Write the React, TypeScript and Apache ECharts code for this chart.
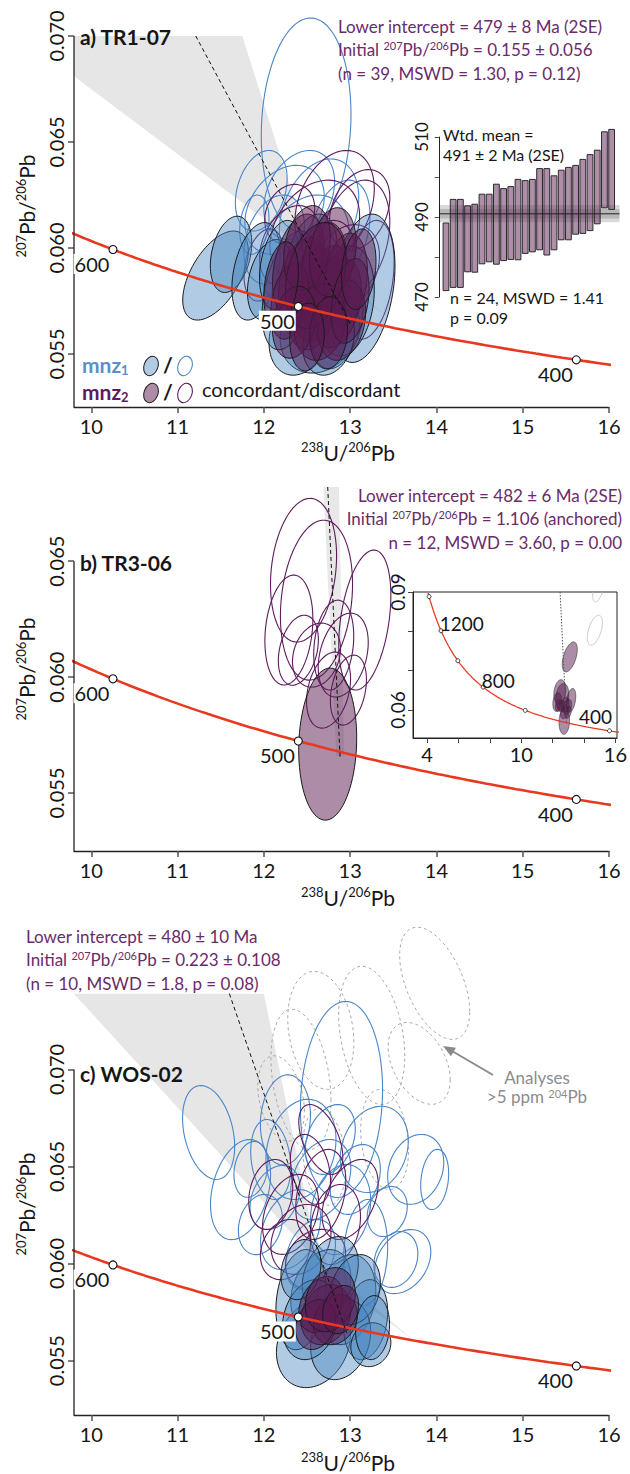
import React, { useEffect, useRef } from "react";
import * as echarts from "echarts";

// ---------------- data ----------------
const X_RANGE = [9.8, 16];
const X_TICKS = [10, 11, 12, 13, 14, 15, 16];
const Y_RANGE_A = [0.0525, 0.0708];
const Y_TICKS_A = [0.055, 0.06, 0.065, 0.07];
const Y_RANGE_B = [0.0525, 0.0682];
const Y_TICKS_B = [0.055, 0.06, 0.065];
const Y_RANGE_C = [0.0522, 0.0745];
const Y_TICKS_C = [0.055, 0.06, 0.065, 0.07];

const CONCORDIA_TICK_AGES = [400, 500, 600];
const INSET_TICK_AGES = [400, 600, 800, 1000, 1200, 1400];
const INSET_LABELLED_AGES = [400, 800, 1200];

// discordia fits: lower intercept age (Ma), initial 207Pb/206Pb, top of drawn line
const FIT_AGES = [479, 482, 480];
const FIT_INITIALS = [0.155, 1.106, 0.223];
const FIT_TOPS = [0.07, 0.0682, 0.0739];

// error envelopes of the fits [x, y]
const BAND_A = [[9.8, 0.07], [11.75, 0.07], [12.45, 0.061], [12.75, 0.059], [13.55, 0.0564], [12.9, 0.0584], [12.45, 0.06], [9.8, 0.0681]];
const BAND_B = [[12.69, 0.0682], [12.87, 0.0682], [12.93, 0.0566], [12.84, 0.0566]];
const BAND_C = [[9.8, 0.0739], [12.0, 0.0739], [12.55, 0.062], [12.75, 0.0598], [13.72, 0.0561], [12.9, 0.0588], [12.5, 0.0607]];

// ellipses: [238U/206Pb, 207Pb/206Pb, half-width x, half-width y, rho]
const A_MNZ1_CONC = [
  [11.44, 0.0587, 0.38, 0.0021, 0.55], [11.62, 0.0597, 0.24, 0.0018, 0.3], [11.91, 0.0589, 0.28, 0.0023, 0.35],
  [12.07, 0.0585, 0.26, 0.0019, 0.3], [13.14, 0.0581, 0.38, 0.0035, 0.3], [12.65, 0.0561, 0.46, 0.002, 0.2],
  [12.41, 0.0559, 0.35, 0.0019, 0.2], [12.85, 0.0565, 0.3, 0.0022, 0.3], [12.3, 0.058, 0.32, 0.0028, 0.4],
  [12.55, 0.0594, 0.3, 0.0022, 0.3], [12.95, 0.0575, 0.33, 0.0026, 0.2], [12.2, 0.0592, 0.25, 0.0021, 0.3],
  [12.75, 0.0557, 0.3, 0.0017, 0.2],
];
const A_MNZ2_CONC = [
  [12.45, 0.0585, 0.28, 0.002, 0.3], [12.6, 0.0578, 0.3, 0.0022, 0.2], [12.75, 0.0582, 0.25, 0.0019, 0.25],
  [12.55, 0.057, 0.27, 0.0018, 0.2], [12.85, 0.0574, 0.28, 0.0021, 0.3], [12.4, 0.0592, 0.3, 0.0024, 0.35],
  [12.7, 0.0592, 0.26, 0.002, 0.2], [12.95, 0.0585, 0.25, 0.0022, 0.2], [12.3, 0.0575, 0.22, 0.0018, 0.3],
  [12.65, 0.0565, 0.3, 0.0018, 0.15], [12.9, 0.0566, 0.28, 0.0019, 0.2], [12.5, 0.06, 0.27, 0.002, 0.25],
  [12.8, 0.0598, 0.27, 0.0021, 0.2], [12.6, 0.0587, 0.35, 0.0025, 0.3], [13.0, 0.0575, 0.22, 0.002, 0.3],
  [12.35, 0.0565, 0.25, 0.0017, 0.2], [12.75, 0.056, 0.22, 0.0017, 0.1], [12.5, 0.0558, 0.2, 0.0016, 0.1],
  [13.1, 0.059, 0.2, 0.0019, 0.2], [12.2, 0.0583, 0.2, 0.002, 0.3],
];
const A_MNZ1_DISC = [
  [12.49, 0.0658, 0.52, 0.00505, 0.1], [11.97, 0.0627, 0.3, 0.0019, 0.3], [12.41, 0.0625, 0.41, 0.0021, 0.3],
  [12.24, 0.0618, 0.46, 0.0021, 0.3], [12.64, 0.0616, 0.46, 0.0026, 0.3], [12.12, 0.0604, 0.35, 0.0021, 0.3],
  [12.88, 0.0608, 0.35, 0.0024, 0.3], [11.89, 0.0611, 0.17, 0.0014, 0.2], [12.47, 0.0599, 0.52, 0.0026, 0.3],
];
const A_MNZ2_DISC = [
  [12.82, 0.062, 0.46, 0.0026, 0.3], [12.59, 0.0608, 0.52, 0.0024, 0.3], [13.05, 0.0604, 0.41, 0.0028, 0.3],
  [12.3, 0.0601, 0.35, 0.0019, 0.3], [13.22, 0.0585, 0.29, 0.0028, 0.3], [12.93, 0.059, 0.41, 0.0021, 0.3],
  [12.3, 0.0616, 0.29, 0.0014, 0.2], [12.7, 0.0594, 0.35, 0.0019, 0.3], [12.0, 0.0592, 0.23, 0.0017, 0.3],
  [13.11, 0.0618, 0.35, 0.0019, 0.3],
];

const B_MNZ2_CONC = [[12.74, 0.05711, 0.336, 0.00328, 0.08]];
const B_MNZ2_DISC = [
  [12.46, 0.06461, 0.383, 0.0031, 0.2], [12.61, 0.06332, 0.418, 0.00345, 0.2], [12.29, 0.06203, 0.278, 0.00237, 0.2],
  [13.17, 0.06246, 0.302, 0.00302, 0.35], [12.92, 0.06095, 0.29, 0.00181, 0.3], [12.61, 0.06095, 0.278, 0.00138, 0.2],
  [12.4, 0.06116, 0.232, 0.00151, 0.3], [12.81, 0.06138, 0.232, 0.00194, 0.2], [12.75, 0.05944, 0.255, 0.00164, 0.3],
  [12.98, 0.05944, 0.209, 0.00151, 0.3], [13.09, 0.0735, 0.48, 0.0038, 0.5],
];
const B_INSET_EXCLUDED = [[14.69, 0.0803, 0.48, 0.0038, 0.5], [14.9, 0.0905, 0.35, 0.003, 0.5]];

const C_HIGH_204 = [
  [13.98, 0.07443, 0.406, 0.00289, -0.5], [13.8, 0.07031, 0.36, 0.00211, -0.4], [13.25, 0.07175, 0.383, 0.00356, -0.3],
  [12.66, 0.07201, 0.383, 0.00304, -0.2], [12.43, 0.06949, 0.348, 0.00361, -0.3], [13.4, 0.06639, 0.278, 0.00258, -0.2],
  [12.7, 0.0655, 0.25, 0.0025, -0.2], [12.2, 0.0685, 0.27, 0.0022, -0.3],
];
const C_MNZ1_DISC = [
  [11.36, 0.06675, 0.302, 0.00242, -0.3], [12.9, 0.06845, 0.476, 0.00505, 0.1], [13.28, 0.06588, 0.394, 0.00222, 0.2],
  [13.76, 0.06485, 0.325, 0.0018, 0.2], [13.98, 0.06433, 0.162, 0.00155, 0.2], [13.61, 0.0601, 0.325, 0.00165, 0.3],
  [13.53, 0.06021, 0.255, 0.00144, 0.2], [13.43, 0.06268, 0.232, 0.00129, 0.2], [13.18, 0.06057, 0.255, 0.00273, 0.1],
  [11.73, 0.06381, 0.348, 0.00258, 0.3], [11.85, 0.06485, 0.197, 0.00144, 0.2], [12.13, 0.0634, 0.29, 0.00165, 0.3],
  [12.43, 0.06588, 0.406, 0.00258, 0.2], [12.66, 0.06433, 0.348, 0.00206, 0.3], [12.31, 0.06175, 0.348, 0.00206, 0.3],
  [12.89, 0.06278, 0.348, 0.00232, 0.2], [12.54, 0.06046, 0.29, 0.0018, 0.3], [12.08, 0.06536, 0.232, 0.00206, -0.2],
  [13.06, 0.06433, 0.29, 0.0018, 0.3], [12.25, 0.0674, 0.29, 0.00232, 0.1], [11.96, 0.06201, 0.255, 0.00155, 0.2],
  [12.77, 0.06639, 0.29, 0.0018, 0.3],
];
const C_MNZ2_DISC = [
  [12.31, 0.06253, 0.325, 0.00206, 0.3], [12.43, 0.06124, 0.348, 0.0018, 0.2], [12.66, 0.06356, 0.29, 0.00232, 0.3],
  [12.83, 0.06201, 0.29, 0.00206, 0.2], [12.54, 0.06485, 0.232, 0.0018, -0.3], [12.25, 0.06072, 0.29, 0.00155, 0.2],
  [13.0, 0.0633, 0.325, 0.00206, 0.4], [12.6, 0.06021, 0.348, 0.00155, 0.2], [12.08, 0.06356, 0.255, 0.0018, 0.2],
  [12.66, 0.06639, 0.255, 0.0018, -0.5],
];
const C_MNZ1_CONC = [
  [12.575, 0.05588, 0.429, 0.00227, 0.2], [12.66, 0.05866, 0.348, 0.00206, 0.3], [12.95, 0.05814, 0.348, 0.00232, 0.2],
  [13.18, 0.05711, 0.255, 0.00206, 0.2], [12.89, 0.05608, 0.348, 0.00206, 0.2], [12.43, 0.05814, 0.29, 0.00258, 0.2],
  [12.77, 0.05943, 0.325, 0.00196, 0.3], [13.24, 0.05582, 0.232, 0.00113, 0.1], [13.06, 0.05866, 0.29, 0.0018, 0.2],
  [12.54, 0.05711, 0.325, 0.00206, 0.2], [13.26, 0.0567, 0.197, 0.00165, 0.1], [12.43, 0.05969, 0.232, 0.00155, 0.2],
];
const C_MNZ2_CONC = [
  [12.72, 0.05737, 0.29, 0.00155, 0.2], [12.66, 0.05789, 0.255, 0.00144, 0.3], [12.83, 0.05711, 0.255, 0.00129, 0.2],
  [12.6, 0.05686, 0.232, 0.00129, 0.2], [12.77, 0.05814, 0.29, 0.00165, 0.2], [12.89, 0.05763, 0.209, 0.00124, 0.2],
];

// weighted mean inset (Ma)
const WM_LOW = [471.6, 472.4, 472.4, 476.3, 476.2, 478.3, 478.8, 478.2, 479.1, 479.4, 479.3, 480.9, 481.3, 481.8, 480.5, 481.8, 484.3, 484.3, 485.7, 485.9, 486.6, 488.3, 492.3, 491.9];
const WM_HIGH = [488.5, 494.4, 494.4, 492.8, 493.2, 495.7, 495.7, 498.2, 497.1, 497.6, 499.4, 499.1, 499.4, 502.1, 502.1, 500.3, 501.7, 502.4, 502.9, 504.4, 505.6, 506.7, 511.3, 511.9];
const WM_MEAN = 490.8;
const WM_BANDS = [[488.7, 493.0], [489.6, 492.0]];
const WM_Y_TICKS = [470, 480, 490, 500, 510];
const WM_Y_LABELS = [470, 490, 510];

// ---------------- helpers ----------------
const FONT = 'Lato, "Noto Sans", sans-serif';
const INK = "#161616";
const PURPLE_TXT = "#6b2b69";
const RED = "#e8381f";
const L238 = 1.55125e-10, L235 = 9.8485e-10, U85 = 137.818;

function concordia(tMa: number) {
  const e8 = Math.exp(L238 * tMa * 1e6) - 1;
  const e5 = Math.exp(L235 * tMa * 1e6) - 1;
  return [1 / e8, e5 / e8 / U85];
}
function ageRange(a: number, b: number, step: number) {
  const out: number[] = [];
  for (let t = a; t <= b; t += step) out.push(t);
  return out;
}

const STY = {
  blueFill: { fill: "rgba(70,130,190,0.42)", stroke: "#1a1a1a", lineWidth: 1 },
  purpleFill: { fill: "rgba(90,25,80,0.5)", stroke: "#1a1a1a", lineWidth: 1 },
  blueLine: { fill: "none", stroke: "#4b86c6", lineWidth: 1.1 },
  purpleLine: { fill: "none", stroke: "#5e1b5c", lineWidth: 1.1 },
  grayDash: { fill: "none", stroke: "#a8a8a8", lineWidth: 1, lineDash: [3, 3] },
  insetFill: { fill: "rgba(90,25,80,0.5)", stroke: "#333", lineWidth: 0.6 },
  insetGray: { fill: "none", stroke: "#bdbdbd", lineWidth: 0.8 },
};

function ellipses(gi: number, data: number[][], style: any, clip = false) {
  return {
    type: "custom", xAxisIndex: gi, yAxisIndex: gi, clip, silent: true, data,
    renderItem: (params: any, api: any) => {
      const cx = api.value(0), cy = api.value(1), sx = api.value(2), sy = api.value(3), r = api.value(4);
      const q = Math.sqrt(1 - r * r);
      const pts: number[][] = [];
      for (let i = 0; i < 80; i++) {
        const t = (i / 80) * Math.PI * 2;
        pts.push(api.coord([cx + sx * Math.cos(t), cy + sy * (r * Math.cos(t) + q * Math.sin(t))]));
      }
      return { type: "polygon", shape: { points: pts }, style: { ...style } };
    },
  };
}
function band(gi: number, poly: number[][], fill = "#e6e6e6") {
  return {
    type: "custom", xAxisIndex: gi, yAxisIndex: gi, silent: true, data: [[poly[0][0], poly[0][1]]],
    renderItem: (params: any, api: any) => ({
      type: "polygon", shape: { points: poly.map((p) => api.coord(p)) }, style: { fill },
    }),
  };
}
function concordiaLine(gi: number, ages: number[], width: number) {
  return {
    type: "line", xAxisIndex: gi, yAxisIndex: gi, silent: true, symbol: "none",
    data: ages.map((t) => concordia(t)), lineStyle: { color: RED, width }, clip: true,
  };
}
function discordia(gi: number, k: number, yTop: number, dash: any, color = "#111") {
  const [x0, y0] = concordia(FIT_AGES[k]);
  const slope = (y0 - FIT_INITIALS[k]) / x0;
  const xAt = (y: number) => (y - FIT_INITIALS[k]) / slope;
  const yBot = y0 - 0.0003;
  return {
    type: "line", xAxisIndex: gi, yAxisIndex: gi, silent: true, symbol: "none", clip: false,
    data: [[xAt(yTop), yTop], [xAt(yBot), yBot]], lineStyle: { color, width: 1, type: dash },
  };
}
function yAxisLine(gi: number, y0: number, y1: number) {
  return {
    type: "line", xAxisIndex: gi, yAxisIndex: gi, silent: true, symbol: "none", clip: false,
    data: [[X_RANGE[0], y0], [X_RANGE[0], y1]], lineStyle: { color: "#222", width: 1.3 },
  };
}
function markers(gi: number) {
  return {
    type: "scatter", xAxisIndex: gi, yAxisIndex: gi, silent: true, symbol: "circle", symbolSize: 8, z: 5,
    data: CONCORDIA_TICK_AGES.map((t) => [...concordia(t), t]),
    itemStyle: { color: "#ffffff", borderColor: "#111", borderWidth: 1.1, opacity: 1 },
    label: {
      show: true, formatter: (p: any) => String(p.value[2]), position: [2, 9], align: "right", verticalAlign: "top",
      fontFamily: FONT, fontSize: 20, color: INK, backgroundColor: "#fff", padding: [0, 1, 0, 1], opacity: 1,
    },
  };
}
function mainX(gi: number) {
  return {
    gridIndex: gi, type: "value", min: X_RANGE[0], max: X_RANGE[1],
    axisLine: { show: true, onZero: false, lineStyle: { color: "#222", width: 1.3 } },
    axisTick: { show: true, length: 6, customValues: X_TICKS, lineStyle: { color: "#555", width: 1.5 } },
    axisLabel: { customValues: X_TICKS, fontFamily: FONT, fontSize: 20, color: INK, margin: 9 },
    splitLine: { show: false },
  };
}
function mainY(gi: number, range: number[], ticks: number[]) {
  return {
    gridIndex: gi, type: "value", min: range[0], max: range[1],
    axisLine: { show: false },
    axisTick: { show: true, length: 6, customValues: ticks, lineStyle: { color: "#555", width: 1.5 } },
    axisLabel: {
      customValues: ticks, rotate: 90, fontFamily: FONT, fontSize: 20, color: INK, margin: 8,
      formatter: (v: number) => v.toFixed(3),
    },
    splitLine: { show: false },
  };
}

const supRich = (size: number, sub: number, color: string, lh: number) => ({
  n: { fontSize: size, fontFamily: FONT, fill: color, lineHeight: lh },
  s: { fontSize: sub, fontFamily: FONT, fill: color, verticalAlign: "top" },
});
function txt(x: number, y: number, text: string, o: any = {}) {
  return {
    type: "text", x, y, silent: true, rotation: o.rotation || 0, z: 100,
    style: {
      text, fontFamily: FONT, fontSize: o.size || 17, fontWeight: o.weight || "normal", fill: o.color || INK,
      align: o.align || "left", verticalAlign: "middle", rich: o.rich, lineHeight: o.lh,
    },
  };
}
const ISO_X = "{s|238}{n|U/}{s|206}{n|Pb}";
const ISO_Y = "{s|207}{n|Pb/}{s|206}{n|Pb}";

function buildOption() {
  const titleRich = supRich(21, 13, INK, 24);
  const fitRich = supRich(17, 11, PURPLE_TXT, 20);
  const grayRich = supRich(17, 11, "#8c8c8c", 17);
  const fitLines = (x: number, y: number, lines: string[], align = "left") =>
    lines.map((l, i) => txt(x, y + i * 23.5, l, { rich: fitRich, align }));

  const graphic: any[] = [
    // panel a
    txt(80, 36, "a) TR1-07", { size: 21, weight: "bold" }),
    ...fitLines(338, 26, [
      "{n|Lower intercept = 479 ± 8 Ma (2SE)}",
      "{n|Initial }{s|207}{n|Pb/}{s|206}{n|Pb = 0.155 ± 0.056}",
      "{n|(n = 39, MSWD = 1.30, p = 0.12)}",
    ]),
    txt(443, 134, "Wtd. mean =", { size: 16, lh: 16 }),
    txt(443, 154, "491 ± 2 Ma (2SE)", { size: 16, lh: 16 }),
    txt(450, 297, "n = 24, MSWD = 1.41", { size: 16, lh: 16 }),
    txt(450, 317, "p = 0.09", { size: 16, lh: 16 }),
    txt(348, 452, ISO_X, { rich: titleRich, align: "center" }),
    txt(26, 206, ISO_Y, { rich: titleRich, align: "center", rotation: Math.PI / 2 }),
    // legend
    txt(82, 364, "{m|mnz}{u|1}", { rich: {
      m: { fontSize: 21, fontWeight: "bold", fontFamily: FONT, fill: "#5b8fc9", lineHeight: 24 },
      u: { fontSize: 13, fontWeight: "bold", fontFamily: FONT, fill: "#5b8fc9", verticalAlign: "bottom" } } }),
    txt(82, 391, "{m|mnz}{u|2}", { rich: {
      m: { fontSize: 21, fontWeight: "bold", fontFamily: FONT, fill: "#5e1a5e", lineHeight: 24 },
      u: { fontSize: 13, fontWeight: "bold", fontFamily: FONT, fill: "#5e1a5e", verticalAlign: "bottom" } } }),
    { type: "ellipse", x: 151, y: 366, rotation: -0.35, shape: { cx: 0, cy: 0, rx: 7, ry: 10 }, style: STY.blueFill, z: 100 },
    { type: "ellipse", x: 185, y: 366, rotation: -0.35, shape: { cx: 0, cy: 0, rx: 7, ry: 10 }, style: { ...STY.blueLine }, z: 100 },
    { type: "ellipse", x: 151, y: 393, rotation: -0.35, shape: { cx: 0, cy: 0, rx: 7, ry: 10 }, style: STY.purpleFill, z: 100 },
    { type: "ellipse", x: 185, y: 393, rotation: -0.35, shape: { cx: 0, cy: 0, rx: 7, ry: 10 }, style: { ...STY.purpleLine }, z: 100 },
    txt(168, 364, "/", { size: 21, weight: "bold", align: "center" }),
    txt(168, 391, "/", { size: 21, weight: "bold", align: "center" }),
    txt(202, 389, "concordant/discordant", { size: 20 }),
    // panel b
    txt(80, 562, "b) TR3-06", { size: 21, weight: "bold" }),
    ...fitLines(622, 495, [
      "{n|Lower intercept = 482 ± 6 Ma (2SE)}",
      "{n|Initial }{s|207}{n|Pb/}{s|206}{n|Pb = 1.106 (anchored)}",
      "{n|n = 12, MSWD = 3.60, p = 0.00}",
    ], "right"),
    txt(348, 897, ISO_X, { rich: titleRich, align: "center" }),
    txt(26, 669, ISO_Y, { rich: titleRich, align: "center", rotation: Math.PI / 2 }),
    // panel c
    txt(80, 1073, "c) WOS-02", { size: 21, weight: "bold" }),
    ...fitLines(26, 936, [
      "{n|Lower intercept = 480 ± 10 Ma}",
      "{n|Initial }{s|207}{n|Pb/}{s|206}{n|Pb = 0.223 ± 0.108}",
      "{n|(n = 10, MSWD = 1.8, p = 0.08)}",
    ]),
    txt(537, 1077, "{n|Analyses}", { rich: grayRich, align: "center" }),
    txt(537, 1096, "{n|>5 ppm }{s|204}{n|Pb}", { rich: grayRich, align: "center" }),
    { type: "line", shape: { x1: 493, y1: 1075, x2: 452, y2: 1051 }, style: { stroke: "#8a8a8a", lineWidth: 2 }, z: 100 },
    { type: "polygon", shape: { points: [[443, 1046], [456, 1047.7], [450.9, 1056.3]] }, style: { fill: "#8a8a8a" }, z: 100 },
    txt(348, 1462, ISO_X, { rich: titleRich, align: "center" }),
    txt(26, 1204, ISO_Y, { rich: titleRich, align: "center", rotation: Math.PI / 2 }),
  ];

  const mainAges = ageRange(380, 640, 2);
  const insetAges = ageRange(380, 1420, 5);

  const series: any[] = [
    // ---- panel a ----
    band(0, BAND_A),
    concordiaLine(0, mainAges, 2.6),
    ellipses(0, A_MNZ1_DISC, STY.blueLine),
    ellipses(0, A_MNZ2_DISC, STY.purpleLine),
    ellipses(0, A_MNZ1_CONC, STY.blueFill),
    ellipses(0, A_MNZ2_CONC, STY.purpleFill),
    discordia(0, 0, FIT_TOPS[0], [4, 3]),
    yAxisLine(0, Y_RANGE_A[0], Y_TICKS_A[Y_TICKS_A.length - 1]),
    markers(0),
    // ---- inset a: weighted mean ----
    {
      type: "custom", xAxisIndex: 1, yAxisIndex: 1, silent: true, data: WM_BANDS,
      renderItem: (params: any, api: any) => {
        const p1 = api.coord([0.03, api.value(1)]);
        const p2 = api.coord([25.1, api.value(0)]);
        return { type: "rect", shape: { x: p1[0], y: p1[1], width: p2[0] - p1[0], height: p2[1] - p1[1] }, style: { fill: "rgba(0,0,0,0.15)" } };
      },
    },
    {
      type: "custom", xAxisIndex: 1, yAxisIndex: 1, silent: true,
      data: WM_LOW.map((lo, k) => [k + 1, lo, WM_HIGH[k]]),
      renderItem: (params: any, api: any) => {
        const top = api.coord([api.value(0), api.value(2)]);
        const bot = api.coord([api.value(0), api.value(1)]);
        const w = api.size([0.8, 0])[0];
        return { type: "rect", shape: { x: top[0] - w / 2, y: top[1], width: w, height: bot[1] - top[1] },
          style: { fill: "rgba(110,50,100,0.55)", stroke: "#2a2a2a", lineWidth: 1 } };
      },
    },
    {
      type: "line", xAxisIndex: 1, yAxisIndex: 1, silent: true, symbol: "none", clip: false,
      data: [[0.03, WM_MEAN], [25.1, WM_MEAN]], lineStyle: { color: "#222", width: 1 },
    },
    // ---- panel b ----
    band(2, BAND_B, "#e8e8e8"),
    concordiaLine(2, mainAges, 2.6),
    ellipses(2, B_MNZ2_DISC, STY.purpleLine, true),
    ellipses(2, B_MNZ2_CONC, STY.purpleFill),
    discordia(2, 1, FIT_TOPS[1], [4, 3]),
    yAxisLine(2, Y_RANGE_B[0], Y_TICKS_B[Y_TICKS_B.length - 1]),
    markers(2),
    // ---- inset b ----
    concordiaLine(3, insetAges, 1.3),
    discordia(3, 1, 0.09, [1.5, 1.5], "#555"),
    ellipses(3, B_INSET_EXCLUDED, STY.insetGray, true),
    ellipses(3, B_MNZ2_DISC, STY.insetFill, true),
    ellipses(3, B_MNZ2_CONC, STY.insetFill, true),
    {
      type: "scatter", xAxisIndex: 3, yAxisIndex: 3, silent: true, symbol: "circle", symbolSize: 4, z: 5,
      itemStyle: { color: "#ffffff", borderColor: "#111", borderWidth: 0.8, opacity: 1 },
      data: INSET_TICK_AGES.map((t) => {
        const lab = INSET_LABELLED_AGES.indexOf(t) >= 0;
        const left = t === 400;
        return {
          value: [...concordia(t), t],
          label: {
            show: lab, formatter: String(t), fontFamily: FONT, fontSize: 19, color: INK, opacity: 1,
            position: left ? [5, -2] : [1, 5], align: left ? "right" : "left", verticalAlign: "bottom",
          },
        };
      }),
    },
    // ---- panel c ----
    band(4, BAND_C),
    concordiaLine(4, mainAges, 2.6),
    ellipses(4, C_HIGH_204, STY.grayDash),
    ellipses(4, C_MNZ1_DISC, STY.blueLine),
    ellipses(4, C_MNZ2_DISC, STY.purpleLine),
    ellipses(4, C_MNZ1_CONC, STY.blueFill),
    ellipses(4, C_MNZ2_CONC, STY.purpleFill),
    discordia(4, 2, FIT_TOPS[2], [4, 3]),
    yAxisLine(4, Y_RANGE_C[0], Y_TICKS_C[Y_TICKS_C.length - 1]),
    markers(4),
  ];

  return {
    animation: false,
    backgroundColor: "#fff",
    textStyle: { fontFamily: FONT },
    grid: [
      { left: 74, top: 19, width: 535, height: 388, containLabel: false, outerBoundsMode: "none" },
      { left: 433, top: 137, width: 188, height: 160, containLabel: false, outerBoundsMode: "none" },
      { left: 74, top: 487, width: 535, height: 364, containLabel: false, outerBoundsMode: "none" },
      { left: 413, top: 592, width: 204, height: 146, containLabel: false, outerBoundsMode: "none", show: true, borderColor: "#222", borderWidth: 1, backgroundColor: "#fff" },
      { left: 74, top: 982, width: 535, height: 433, containLabel: false, outerBoundsMode: "none" },
    ],
    xAxis: [
      mainX(0),
      { gridIndex: 1, type: "value", min: -0.8, max: 25.3, show: false },
      mainX(2),
      {
        gridIndex: 3, type: "value", min: 3.1, max: 16.1,
        axisLine: { show: true, onZero: false, lineStyle: { color: "#222", width: 1 } },
        axisTick: { show: true, length: 5, customValues: [4, 6, 8, 10, 12, 14, 16], lineStyle: { color: "#444" } },
        axisLabel: { customValues: [4, 10, 16], fontFamily: FONT, fontSize: 20, color: INK, margin: 6 },
        splitLine: { show: false },
      },
      mainX(4),
    ],
    yAxis: [
      mainY(0, Y_RANGE_A, Y_TICKS_A),
      {
        gridIndex: 1, type: "value", min: 470, max: 510,
        axisLine: { show: true, lineStyle: { color: "#222", width: 1 } },
        axisTick: { show: true, length: 4, customValues: WM_Y_TICKS, lineStyle: { color: "#444" } },
        axisLabel: { customValues: WM_Y_LABELS, rotate: 90, fontFamily: FONT, fontSize: 17, color: INK, margin: 3 },
        splitLine: { show: false },
      },
      mainY(2, Y_RANGE_B, Y_TICKS_B),
      {
        gridIndex: 3, type: "value", min: 0.0529, max: 0.09,
        axisLine: { show: true, onZero: false, lineStyle: { color: "#222", width: 1 } },
        axisTick: { show: true, length: 5, customValues: [0.06, 0.07, 0.08, 0.09], lineStyle: { color: "#444" } },
        axisLabel: { customValues: [0.06, 0.09], rotate: 90, fontFamily: FONT, fontSize: 19, color: INK, margin: 6, formatter: (v: number) => v.toFixed(2) },
        splitLine: { show: false },
      },
      mainY(4, Y_RANGE_C, Y_TICKS_C),
    ],
    series,
    graphic: { elements: graphic },
  };
}

export default function App() {
  const ref = useRef<HTMLDivElement>(null);
  useEffect(() => {
    const chart = echarts.init(ref.current!, null, { renderer: "svg" });
    chart.setOption(buildOption() as any);
    return () => chart.dispose();
  }, []);
  return (
    <div
      ref={ref}
      style={{ position: "absolute", left: 0, top: 0, width: 630, height: 1474, background: "#fff" }}
    />
  );
}
